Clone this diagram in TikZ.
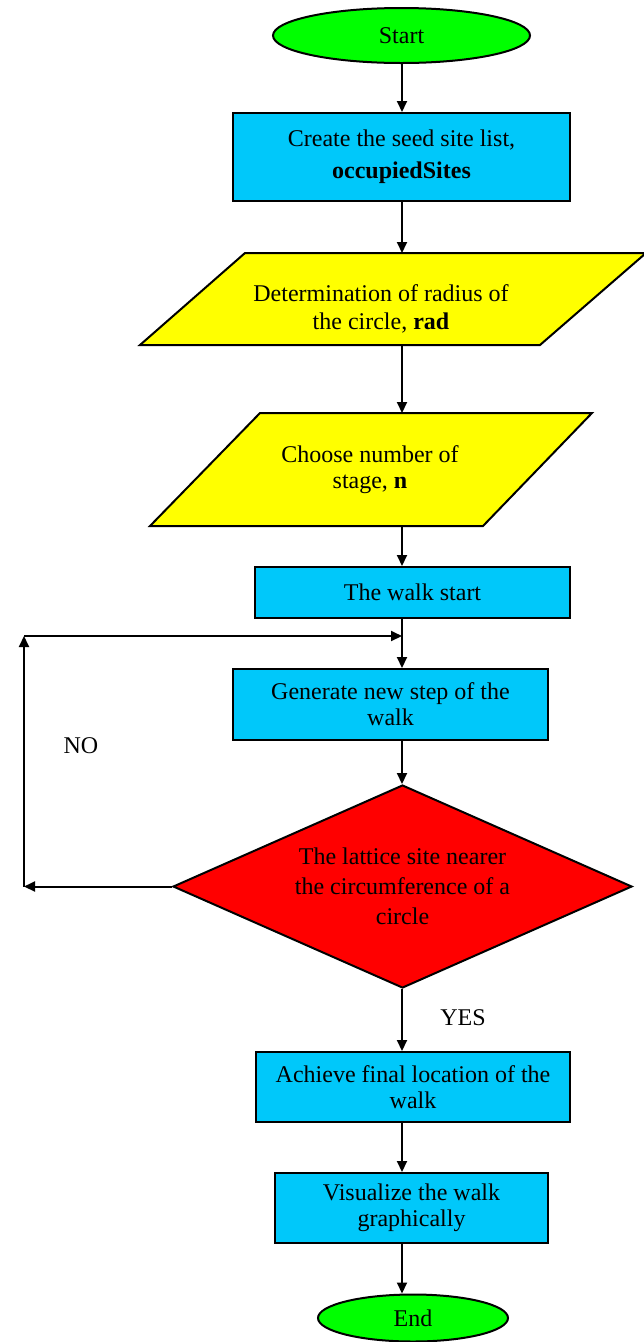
\documentclass[tikz,border=0pt]{standalone}
\usepackage{fontspec}
\setmainfont{Liberation Serif}
\usetikzlibrary{shapes.geometric,arrows.meta}
\definecolor{boxblue}{RGB}{0,200,250}
\definecolor{flowgreen}{RGB}{0,255,0}
\definecolor{flowyellow}{RGB}{255,255,0}
\definecolor{flowred}{RGB}{255,0,0}
\begin{document}
\begin{tikzpicture}[x=1pt,y=-1pt,
  every node/.style={font=\fontsize{24}{26}\selectfont},
  procbox/.style={draw=black,line width=2pt,fill=boxblue,rectangle,align=center,inner sep=0pt},
  term/.style={draw=black,line width=2pt,fill=flowgreen,ellipse,inner sep=0pt},
  iobox/.style={draw=black,line width=2pt,fill=flowyellow,line join=miter},
  decis/.style={draw=black,line width=2pt,fill=flowred,diamond,aspect=2.26,inner sep=0pt,align=center},
  txt/.style={align=center,inner sep=0pt},
  arr/.style={line width=2pt,-{Triangle[length=11pt,width=10pt]}},
]
\useasboundingbox (0,0) rectangle (644,1342);
\fill[white] (0,0) rectangle (644,1342);
\coordinate (col) at (402,0);

\node[term, minimum width=257pt, minimum height=55pt] (start) at (401.5,35.5) {Start};
\node[procbox, minimum width=337pt, minimum height=88pt] (seed) at (401.5,157) {Create the seed site list,\\[6pt]\textbf{occupiedSites}};

\path[iobox] (245,253) -- (646,253) -- (540,345) -- (140,345) -- cycle;
\node[txt] (rad) at (381,309) {Determination of radius of\\[2pt]the circle, \textbf{rad}};
\coordinate (radtop) at (402,253);
\coordinate (radbot) at (402,345);

\path[iobox] (260,413) -- (592,413) -- (483,526) -- (150,526) -- cycle;
\node[txt] (stage) at (370,470) {Choose number of\\stage, \textbf{n}};
\coordinate (stagetop) at (402,413);
\coordinate (stagebot) at (402,526);

\node[procbox, minimum width=315pt, minimum height=51pt] (walk) at (412.5,592.5) {The walk start};
\node[procbox, minimum width=315pt, minimum height=71pt] (gen) at (390.5,704.5) {Generate new step of the\\walk};
\node[decis, minimum width=459pt, minimum height=203pt] (lat) at (402.5,886.5) {The lattice site nearer\\[4pt]the circumference of a\\[4pt]circle};
\node[procbox, minimum width=314pt, minimum height=70pt] (ach) at (413,1087) {Achieve final location of the\\walk};
\node[procbox, minimum width=273pt, minimum height=70pt] (vis) at (411.5,1208) {Visualize the walk\\graphically};
\node[term, minimum width=190pt, minimum height=47pt] (end) at (413,1318) {End};

\node[txt] (no) at (81,746) {NO};
\node[txt] (yes) at (463,1018) {YES};

\draw[arr] (start.south -| col) -- (seed.north -| col);
\draw[arr] (seed.south -| col) -- (radtop);
\draw[arr] (radbot) -- (stagetop);
\draw[arr] (stagebot) -- (walk.north -| col);
\draw[arr] (walk.south -| col) -- (gen.north -| col);
\draw[arr] (gen.south -| col) -- (lat.north -| col);
\draw[arr] (lat.south -| col) -- (ach.north -| col);
\draw[arr] (ach.south -| col) -- (vis.north -| col);
\draw[arr] (vis.south -| col) -- (end.north -| col);

\coordinate (lb) at (24,886.5);
\coordinate (lt) at (24,636);
\coordinate (lr) at (402,636);
\draw[arr] (lat.west) -- (lb);
\draw[arr] (lb) -- (lt);
\draw[arr] (lt) -- (lr);
\end{tikzpicture}
\end{document}
